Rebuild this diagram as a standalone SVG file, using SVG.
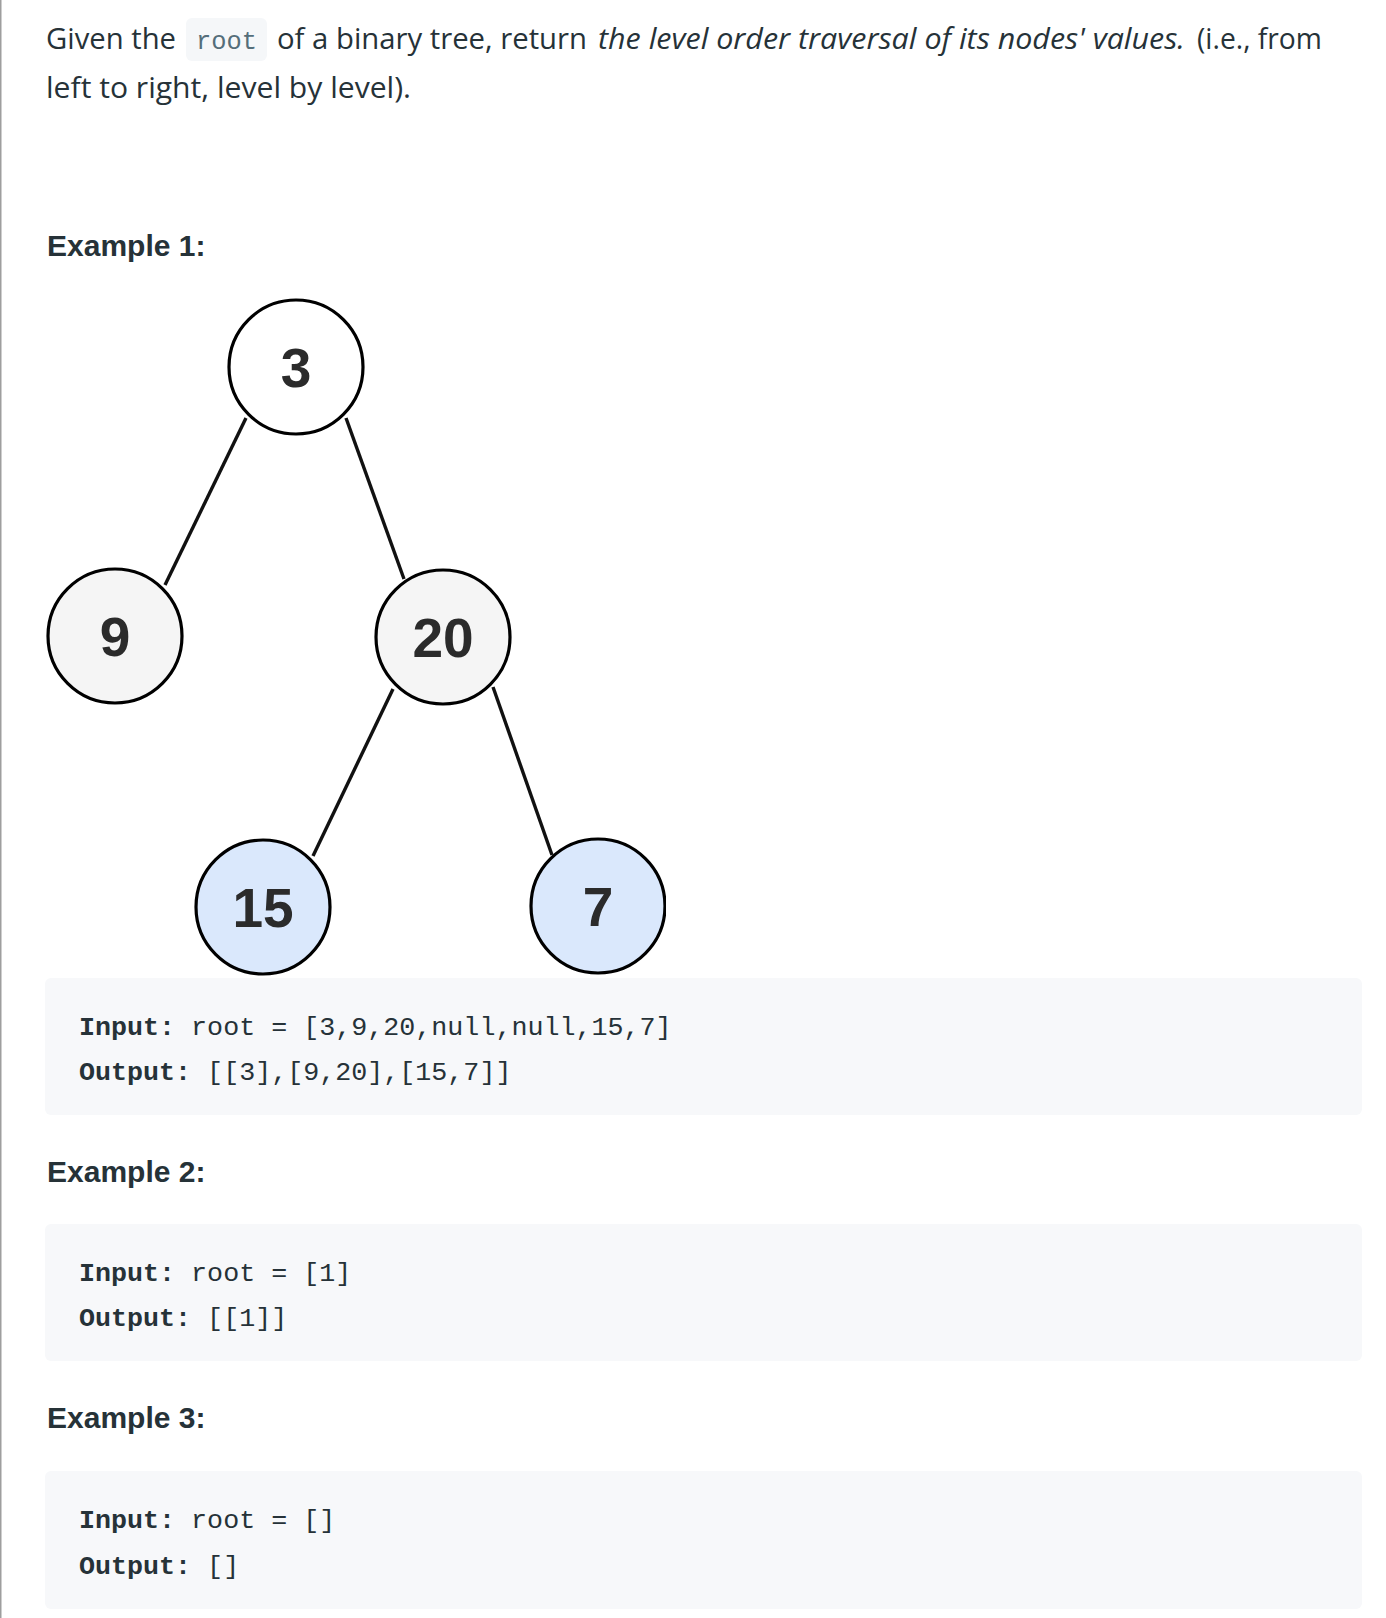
<svg xmlns="http://www.w3.org/2000/svg" width="1386" height="1618" viewBox="0 0 1386 1618">
<defs>
<style>
.body{font-family:"Segoe UI","Open Sans","Liberation Sans",sans-serif;font-size:30px;fill:#263238}
.it{font-style:italic}
.h{font-family:"Liberation Sans",Arial,sans-serif;font-weight:bold;font-size:30px;fill:#263238}
.code{font-family:"Liberation Mono","DejaVu Sans Mono",monospace;font-size:26.7px;fill:#263238}
.b{font-weight:bold}
.block{fill:#f7f8fa}
.node circle{stroke:#000;stroke-width:3.2}
.node text{font-family:"Liberation Sans",Arial,sans-serif;font-weight:bold;font-size:55px;fill:#2b2b2b;text-anchor:middle}
.edge{stroke:#111;stroke-width:3.4;fill:none}
.w{fill:#ffffff}
.g{fill:#f5f5f5}
.bl{fill:#dae8fc}
</style>
<clipPath id="treeclip"><rect x="0" y="280" width="666" height="700"/></clipPath>
</defs>
<rect x="0" y="0" width="1386" height="1618" fill="#ffffff"/>
<line x1="0.75" y1="0" x2="0.75" y2="1618" stroke="#9e9e9e" stroke-width="1.5"/>

<g id="intro">
<text class="body" x="46" y="49" textLength="130" lengthAdjust="spacingAndGlyphs">Given the</text>
<rect x="186" y="18" width="81" height="43" rx="6" fill="#f5f7f9"/>
<text x="196" y="49" font-family="Liberation Mono,DejaVu Sans Mono,monospace" font-size="26" fill="#546e7a" textLength="61" lengthAdjust="spacingAndGlyphs">root</text>
<text class="body" x="277" y="49" textLength="310" lengthAdjust="spacingAndGlyphs">of a binary tree, return</text>
<text class="body it" x="598" y="49" textLength="587" lengthAdjust="spacingAndGlyphs">the level order traversal of its nodes' values.</text>
<text class="body" x="1197" y="49" textLength="125" lengthAdjust="spacingAndGlyphs">(i.e., from</text>
<text class="body" x="46" y="98" textLength="365" lengthAdjust="spacingAndGlyphs">left to right, level by level).</text>
</g>

<text class="h" x="47" y="256">Example 1:</text>

<g clip-path="url(#treeclip)">
<g id="connectors">
<line class="edge" x1="246" y1="418" x2="165" y2="585"/>
<line class="edge" x1="346" y1="418" x2="404" y2="579"/>
<line class="edge" x1="393" y1="689" x2="313" y2="856"/>
<line class="edge" x1="493" y1="687" x2="552" y2="855"/>
</g>
<g id="node-3" class="node"><circle class="w" cx="296" cy="367" r="67"/><text x="296" y="387">3</text></g>
<g id="node-9" class="node"><circle class="g" cx="115" cy="636" r="67"/><text x="115" y="656">9</text></g>
<g id="node-20" class="node"><circle class="g" cx="443" cy="637" r="67"/><text x="443" y="657">20</text></g>
<g id="node-15" class="node"><circle class="bl" cx="263" cy="907" r="67"/><text x="263" y="927">15</text></g>
<g id="node-7" class="node"><circle class="bl" cx="598" cy="906" r="67"/><text x="598" y="926">7</text></g>
</g>

<g id="example1-code">
<rect class="block" x="45" y="978" width="1317" height="137" rx="6"/>
<text class="code" x="79" y="1035"><tspan class="b">Input:</tspan> root = [3,9,20,null,null,15,7]</text>
<text class="code" x="79" y="1080"><tspan class="b">Output:</tspan> [[3],[9,20],[15,7]]</text>
</g>

<text class="h" x="47" y="1182">Example 2:</text>
<g id="example2-code">
<rect class="block" x="45" y="1224" width="1317" height="137" rx="6"/>
<text class="code" x="79" y="1281"><tspan class="b">Input:</tspan> root = [1]</text>
<text class="code" x="79" y="1326"><tspan class="b">Output:</tspan> [[1]]</text>
</g>

<text class="h" x="47" y="1428">Example 3:</text>
<g id="example3-code">
<rect class="block" x="45" y="1471" width="1317" height="138" rx="6"/>
<text class="code" x="79" y="1528"><tspan class="b">Input:</tspan> root = []</text>
<text class="code" x="79" y="1574"><tspan class="b">Output:</tspan> []</text>
</g>
</svg>
